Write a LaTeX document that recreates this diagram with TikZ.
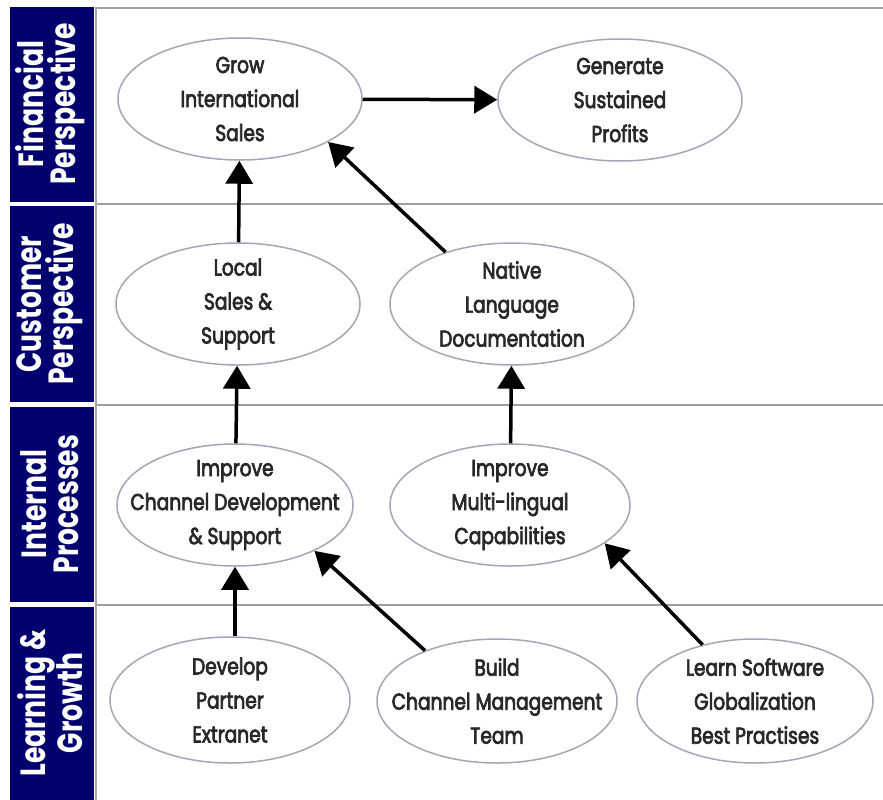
\documentclass[tikz,border=0pt]{standalone}
\usepackage{fontspec}
\usepackage{tikz}
\usetikzlibrary{shapes.geometric}
\usetikzlibrary{arrows.meta}
\newfontfamily\goalfont[FakeStretch=0.81,FakeBold=3]{Poppins}
\newfontfamily\bandfont[FakeStretch=0.76]{Poppins}
\definecolor{navy}{RGB}{0,0,110}
\definecolor{rim}{RGB}{165,165,180}
\definecolor{ink}{RGB}{40,40,40}
\tikzstyle{goal}=[ellipse,draw=rim,line width=1.5,fill=white,
  inner xsep=-60,inner ysep=-30,
  minimum width=244, minimum height=122,align=center,text=ink,
  font=\goalfont\fontsize{23}{34}\selectfont]
\tikzstyle{band}=[fill=navy]
\tikzstyle{bandtext}=[rotate=90,align=center,text=white,
  font=\bandfont\bfseries\fontsize{35}{32}\selectfont]
\tikzstyle{sep}=[draw=gray!75,line width=2.5]
\tikzstyle{arrow}=[-{Triangle[length=23,width=27]},line width=3.5]
\tikzset{every picture/.style={x=1pt,y=-1pt}}

\begin{document}
\begin{tikzpicture}
      \useasboundingbox (0,0) rectangle (883,800);
      % perspective bands
      \fill[band] (10,7) rectangle (94,202);
      \fill[band] (10,206) rectangle (94,402);
      \fill[band] (10,407) rectangle (94,602);
      \fill[band] (10,607) rectangle (94,800);
      \node[bandtext] at (50,104) (fin) {Financial\\Perspective};
      \node[bandtext] at (50,304) (cus) {Customer\\Perspective};
      \node[bandtext] at (50,504) (int) {Internal\\Processes};
      \node[bandtext] at (50,703) (lrn) {Learning \&\\Growth};
      \draw[sep] (95,8) -- (883,8);
      \draw[sep] (95,204) -- (883,204);
      \draw[sep] (95,405) -- (883,405);
      \draw[sep] (95,605) -- (883,605);
      \draw[draw=rim,line width=2] (95.5,7) -- (95.5,800);
      % objectives
      \node[goal] at (240,99) (grow) {Grow\\International\\Sales};
      \node[goal] at (620,100) (profit) {Generate\\Sustained\\Profits};
      \node[goal] at (238,304) (local) {Local\\Sales \&\\Support};
      \node[goal] at (512,304) (native) {Native\\Language\\Documentation};
      \node[goal,minimum width=236] at (235,505) (channel) {Improve\\Channel Development\\\& Support};
      \node[goal,minimum width=240] at (510,505) (multi) {Improve\\Multi-lingual\\Capabilities};
      \node[goal,minimum width=240,minimum height=126] at (230,700) (extranet) {Develop\\Partner\\Extranet};
      \node[goal,minimum width=240,minimum height=124] at (497,701) (team) {Build\\Channel Management\\Team};
      \node[goal,minimum width=236,minimum height=124] at (755,701) (globe) {Learn Software\\Globalization\\Best Practises};
      % links
      \draw[arrow] (grow) -- (profit);
      \draw[arrow] (local) -- (grow);
      \draw[arrow] (native.142) -- (grow.-26);
      \draw[arrow] (channel) -- (local);
      \draw[arrow] (multi) -- (native);
      \draw[arrow] (extranet.north -| channel) -- (channel);
      \draw[arrow] (team.145) -- (channel.-30);
      \draw[arrow] (globe.133) -- (multi.-22);
    \end{tikzpicture}
\end{document}
